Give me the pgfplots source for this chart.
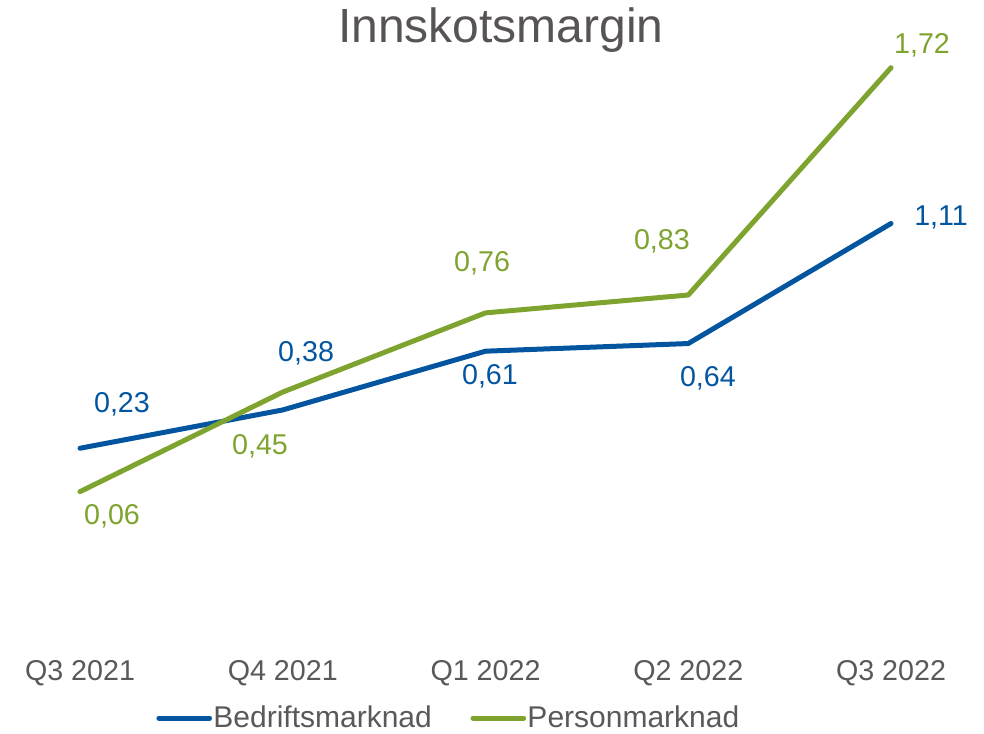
\documentclass[border=0pt]{standalone}
\usepackage{pgfplots}
\pgfplotsset{compat=1.18}
\usepackage{fontspec}
\setmainfont{Liberation Sans}
\definecolor{cblue}{HTML}{0455A0}
\definecolor{cgreen}{HTML}{7EA42F}
\definecolor{cgray}{HTML}{595959}
\definecolor{ctitle}{HTML}{585454}
\begin{document}
\begin{tikzpicture}
\begin{axis}[
  anchor=south west,
  scale only axis, width=738pt, height=510pt,
  xmin=-0.3946, xmax=4.4587, ymin=-0.6774, ymax=1.9851,
  axis line style={draw=none}, tick style={draw=none}, ytick=\empty,
  xtick={0,1,2,3,4},
  xticklabels={Q3 2021,Q4 2021,Q1 2022,Q2 2022,Q3 2022},
  xticklabel style={anchor=base, font=\fontsize{21.5}{25}\selectfont, text=cgray, inner sep=0pt},
  clip=false,
  legend columns=2,
  legend image code/.code={\draw[#1] (0pt,0pt) -- (38pt,0pt);},
  legend style={draw=none, fill=none, at={(rel axis cs:0.4558,-0.0559)}, anchor=center,
    font=\fontsize{22.5}{26}\selectfont, text=cgray, inner sep=0pt,
    nodes={inner xsep=1pt},
    /tikz/every even column/.append style={column sep=28pt}},
]
\addplot[cblue, line width=3.75pt, line cap=round, line join=round] coordinates {(0,0.23) (1,0.38) (2,0.61) (3,0.64) (4,1.11)};
\addlegendentry{Bedriftsmarknad}
\addplot[cgreen, line width=3.75pt, line cap=round, line join=round] coordinates {(0,0.06) (1,0.45) (2,0.76) (3,0.83) (4,1.72)};
\addlegendentry{Personmarknad}
\begin{scope}[font=\fontsize{21.5}{25}\selectfont]
\node[text=cblue] at (axis cs:0.207,0.403) {0,23};
\node[text=cblue] at (axis cs:1.115,0.603) {0,38};
\node[text=cblue] at (axis cs:2.022,0.513) {0,61};
\node[text=cblue] at (axis cs:3.097,0.505) {0,64};
\node[text=cblue] at (axis cs:4.247,1.132) {1,11};
\node[text=cgreen] at (axis cs:0.158,-0.035) {0,06};
\node[text=cgreen] at (axis cs:0.888,0.239) {0,45};
\node[text=cgreen] at (axis cs:1.983,0.955) {0,76};
\node[text=cgreen] at (axis cs:2.870,1.041) {0,83};
\node[text=cgreen] at (axis cs:4.153,1.809) {1,72};
\end{scope}
\node[anchor=base, font=\fontsize{36}{42}\selectfont, text=ctitle] at (axis cs:2.076,1.817) {Innskotsmargin};
\end{axis}
\pgfresetboundingbox
\path[use as bounding box] (0pt,-40.5pt) rectangle (738pt,510pt);
\end{tikzpicture}
\end{document}
